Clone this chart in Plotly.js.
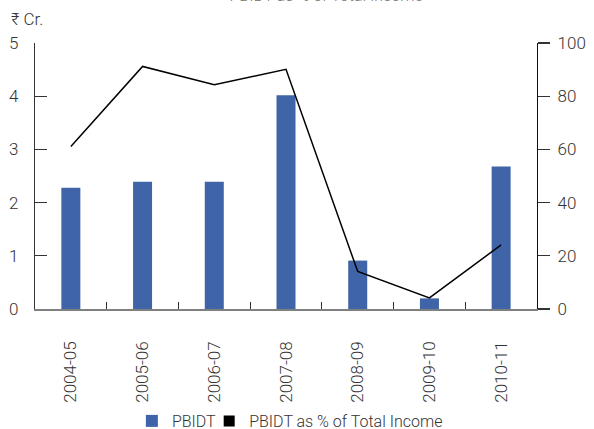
<!DOCTYPE html>
<html>
<head>
<meta charset="utf-8">
<script src="https://cdn.plot.ly/plotly-3.0.1.min.js"></script>
<style>html,body{margin:0;padding:0;background:#fff;}#chart{width:594px;height:429px;}</style>
</head>
<body>
<div id="chart"></div>
<script>
const years = ["2004-05","2005-06","2006-07","2007-08","2008-09","2009-10","2010-11"];
const pbidt = [2.28, 2.39, 2.39, 4.02, 0.91, 0.20, 2.68];
const pbidtPct = [61.1, 91.2, 84.3, 90.1, 14.1, 4.2, 24.1];
const leftTicks = [0,1,2,3,4,5];
const rightTicks = [0,20,40,60,80,100];

const FONT = "Roboto, 'Liberation Sans', sans-serif";
const TXT = "#333333";

const traces = [
  {type:"bar", x:years, y:pbidt, name:"PBIDT", marker:{color:"#3F65A8"}, width:0.265, yaxis:"y", showlegend:true, legend:"legend"},
  {type:"scatter", mode:"lines", x:years, y:pbidtPct, name:"PBIDT as % of Total Income", line:{color:"#000000", width:1.5}, yaxis:"y2", showlegend:false, legendgroup:"pct"},
  {type:"scatter", mode:"markers", x:[null], y:[null], name:"PBIDT as % of Total Income", marker:{symbol:"square", size:11, color:"#000000"}, yaxis:"y2", showlegend:true, legendgroup:"pct", legend:"legend2"}
];

const legFont = {family:FONT, size:16, color:TXT};
const layout = {
  width:594, height:429,
  margin:{l:35, r:57, t:42.5, b:119.5, pad:0, autoexpand:false},
  paper_bgcolor:"#ffffff", plot_bgcolor:"#ffffff",
  font:{family:FONT, size:17, color:TXT, weight:300},
  title:{text:"PBIDT as % of Total Income", font:{family:FONT, size:16, color:"#777777"}, x:0.549, xanchor:"center", xref:"container", y:0.9985, yanchor:"bottom"},
  showlegend:true,
  barmode:"overlay",
  legend:{orientation:"h", x:0.193, xanchor:"left", y:-0.421, yanchor:"middle", font:legFont, itemwidth:30, bgcolor:"rgba(0,0,0,0)"},
  legend2:{orientation:"h", x:0.347, xanchor:"left", y:-0.421, yanchor:"middle", font:legFont, itemwidth:30, bgcolor:"rgba(0,0,0,0)"},
  xaxis:{type:"category", range:[-0.5,6.5], tickson:"boundaries", ticks:"inside", ticklen:7, tickcolor:"#333333", tickwidth:1.2,
         showline:true, linecolor:"#808080", linewidth:1.5, showgrid:false, zeroline:false, tickangle:-90,
         tickfont:{family:FONT, size:17, color:TXT}, ticklabelstandoff:24},
  yaxis:{range:[0,5], tickvals:leftTicks, ticktext:leftTicks.map(String), ticks:"inside", ticklen:12, tickcolor:"#333333", tickwidth:1.2,
         showline:true, linecolor:"#333333", linewidth:1.2, showgrid:false, zeroline:false,
         tickfont:{family:FONT, size:17, color:TXT}, ticklabelstandoff:12},
  yaxis2:{range:[0,100], tickvals:rightTicks, ticktext:rightTicks.map(String), overlaying:"y", side:"right", ticks:"outside", ticklen:12, tickcolor:"#333333", tickwidth:1.2,
          showline:true, linecolor:"#111111", linewidth:1.2, showgrid:false, zeroline:false,
          tickfont:{family:FONT, size:17, color:TXT}, ticklabelstandoff:4},
  annotations:[{text:"₹ Cr.", xref:"paper", yref:"paper", x:-0.052, xanchor:"left", y:1.09, yanchor:"middle", showarrow:false, font:{family:FONT, size:17, color:TXT}}]
};

Plotly.newPlot("chart", traces, layout, {displayModeBar:false, staticPlot:true});
</script>
</body>
</html>
